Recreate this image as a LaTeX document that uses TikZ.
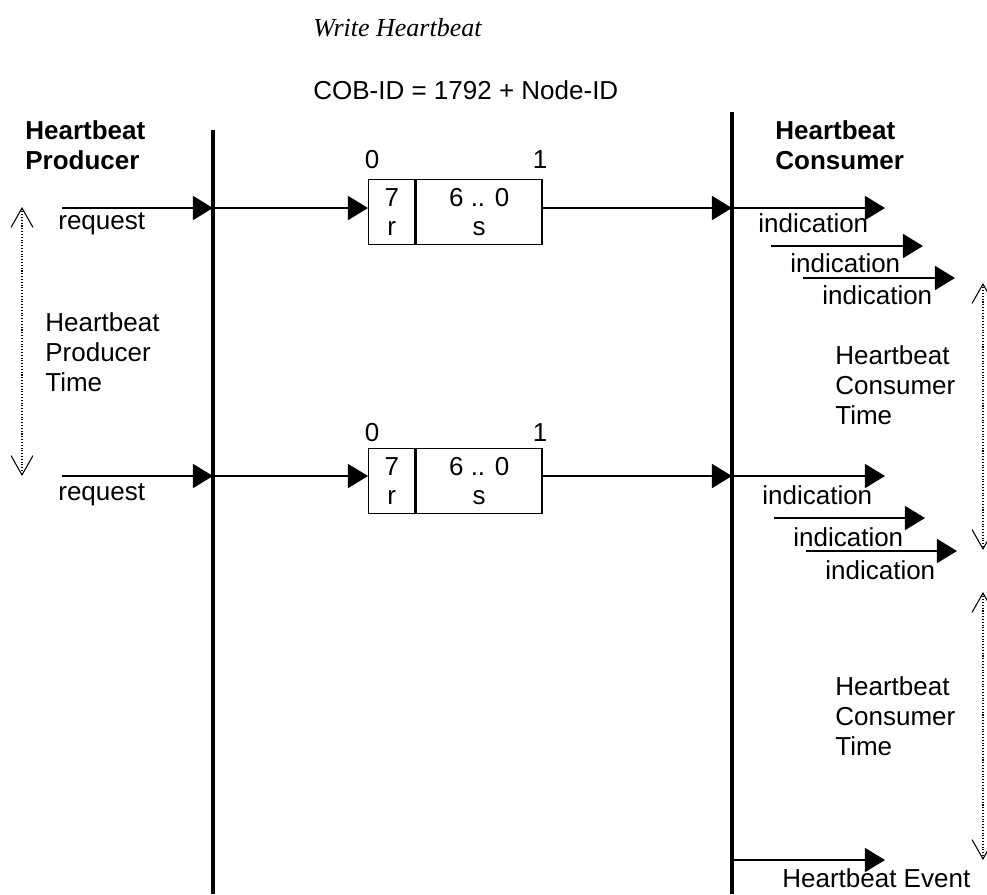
\documentclass[tikz,border=0pt]{standalone}
\usepackage{fontspec}
\setmainfont{Liberation Sans}
\newfontfamily\titlefont{Liberation Serif}
\usetikzlibrary{arrows.meta,positioning}

\begin{document}
\begin{tikzpicture}[
  x=0.02cm, y=-0.02cm,
  >={Triangle[length=11.4pt,width=13.6pt]},
  openv/.tip={Straight Barb[length=11pt,width=12.5pt]},
  lifeline/.style={line width=2.4pt},
  msg/.style={->,line width=1.1pt},
  timespan/.style={openv-openv,densely dotted,line width=.6pt},
  every node/.style={font=\fontsize{14.8}{17}\selectfont,inner sep=0pt},
  lbl/.style={anchor=west,align=left},
  role/.style={lbl,font=\fontsize{14.8}{17}\selectfont\bfseries},
  bitbox/.style={draw,line width=.85pt,minimum height=1.3cm,align=center}]

  \useasboundingbox (0,0) rectangle (987,894);

  % headings
  \node[lbl,font=\fontsize{14.8}{17}\selectfont\titlefont\itshape] (title) at (313,28) {Write Heartbeat};
  \node[lbl] (cobid) at (313,90) {COB-ID = 1792 + Node-ID};
  \node[role] (producer) at (25,145) {Heartbeat\\Producer};
  \node[role] (consumer) at (775,145) {Heartbeat\\Consumer};

  % lifelines
  \coordinate (pltop) at (213,130);
  \coordinate (plbot) at (213,894);
  \coordinate (cltop) at (732,112);
  \coordinate (clbot) at (732,894);
  \draw[lifeline] (pltop) -- (plbot);
  \draw[lifeline] (cltop) -- (clbot);

  % first heartbeat
  \coordinate (req1) at (62,208);
  \coordinate (pl1) at (213,208);
  \coordinate (cl1) at (732,208);
  \node[bitbox,minimum width=.92cm,anchor=west] (r1) at (368,212) {7\\r};
  \node[bitbox,minimum width=2.52cm,right=0pt of r1] (s1) {6 .. 0\\s};
  \node (zero1) at (372,160) {0};
  \node (one1) at (540,160) {1};
  \node[lbl] (request1) at (58,224) {request};
  \draw[msg] (req1) -- (pl1);
  \draw[msg] (pl1) -- (pl1 -| r1.west);
  \draw[msg] (pl1 -| s1.east) -- (cl1);

  \coordinate (ia1) at (885,208);
  \coordinate (ib1s) at (771,246);
  \coordinate (ib1) at (923,246);
  \coordinate (ic1s) at (803,278);
  \coordinate (ic1) at (955,278);
  \draw[msg] (cl1) -- (ia1);
  \draw[msg] (ib1s) -- (ib1);
  \draw[msg] (ic1s) -- (ic1);
  \node[lbl] (inda1) at (758,223) {indication};
  \node[lbl] (indb1) at (790,263) {indication};
  \node[lbl] (indc1) at (822,295) {indication};

  % second heartbeat
  \coordinate (req2) at (62,476);
  \coordinate (pl2) at (213,476);
  \coordinate (cl2) at (732,476);
  \node[bitbox,minimum width=.92cm,anchor=west] (r2) at (368,481) {7\\r};
  \node[bitbox,minimum width=2.52cm,right=0pt of r2] (s2) {6 .. 0\\s};
  \node (zero2) at (372,433) {0};
  \node (one2) at (540,433) {1};
  \node[lbl] (request2) at (58,495) {request};
  \draw[msg] (req2) -- (pl2);
  \draw[msg] (pl2) -- (pl2 -| r2.west);
  \draw[msg] (pl2 -| s2.east) -- (cl2);

  \coordinate (ia2) at (885,476);
  \coordinate (ib2s) at (774,518);
  \coordinate (ib2) at (925,518);
  \coordinate (ic2s) at (806,551);
  \coordinate (ic2) at (957,551);
  \draw[msg] (cl2) -- (ia2);
  \draw[msg] (ib2s) -- (ib2);
  \draw[msg] (ic2s) -- (ic2);
  \node[lbl] (inda2) at (762,495) {indication};
  \node[lbl] (indb2) at (793,537) {indication};
  \node[lbl] (indc2) at (825,570) {indication};

  % time spans
  \coordinate (pt1) at (22,207);
  \coordinate (pt2) at (22,476);
  \draw[timespan] (pt1) -- (pt2);
  \node[lbl] (ptime) at (45,352) {Heartbeat\\Producer\\Time};

  \coordinate (ct1) at (983,283);
  \coordinate (ct2) at (983,550);
  \draw[timespan] (ct1) -- (ct2);
  \node[lbl] (ctime1) at (835,385) {Heartbeat\\Consumer\\Time};

  \coordinate (ct3) at (983,592);
  \coordinate (ct4) at (983,860);
  \draw[timespan] (ct3) -- (ct4);
  \node[lbl] (ctime2) at (835,716) {Heartbeat\\Consumer\\Time};

  % heartbeat event
  \coordinate (cl3) at (732,860);
  \coordinate (ev) at (885,860);
  \draw[msg] (cl3) -- (ev);
  \node[lbl] (event) at (782,878) {Heartbeat Event};
\end{tikzpicture}
\end{document}
